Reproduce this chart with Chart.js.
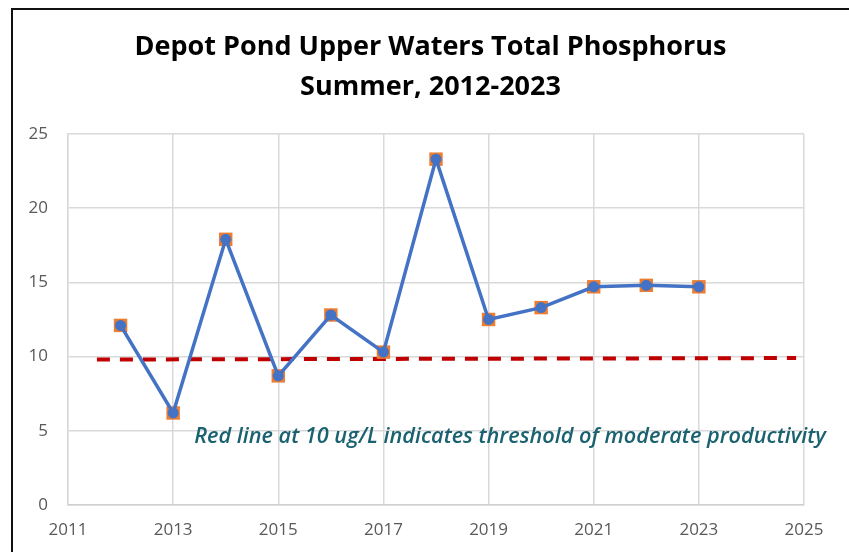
<!DOCTYPE html>
<html>
<head>
<meta charset="utf-8">
<script src="https://cdn.jsdelivr.net/npm/chart.js@4/dist/chart.umd.min.js"></script>
<style>
  html, body { margin: 0; padding: 0; background: #ffffff; }
  #wrap { width: 849px; height: 552px; position: relative; }
</style>
</head>
<body>
<div id="wrap"><canvas id="c" width="849" height="552"></canvas></div>
<script>
// ---- data ----
const titleLines = ["Depot Pond Upper Waters Total Phosphorus", "Summer, 2012-2023"];
const years = [2012, 2013, 2014, 2015, 2016, 2017, 2018, 2019, 2020, 2021, 2022, 2023];
const phosphorus = [12.1, 6.2, 17.9, 8.7, 12.8, 10.3, 23.3, 12.5, 13.3, 14.7, 14.8, 14.7];
const thresholdX = [2011.55, 2024.85];
const thresholdY = [9.8, 9.9];
const xTickRange = [2011, 2025];
const yTickRange = [0, 25];
const noteText = "Red line at 10 ug/L indicates threshold of moderate productivity";
const notePos = [2013.4, 4.6];

const seriesPoints = years.map((yr, i) => ({ x: yr, y: phosphorus[i] }));
const thresholdPoints = thresholdX.map((x, i) => ({ x: x, y: thresholdY[i] }));

const framePlugin = {
  id: 'frame',
  beforeDraw(chart) {
    const ctx = chart.ctx;
    ctx.save();
    ctx.fillStyle = '#ffffff';
    ctx.fillRect(0, 0, chart.width, chart.height);
    ctx.strokeStyle = '#111111';
    ctx.lineWidth = 2;
    ctx.beginPath();
    ctx.moveTo(849, 9);
    ctx.lineTo(12, 9);
    ctx.lineTo(12, 552);
    ctx.stroke();
    ctx.restore();
  }
};

const notePlugin = {
  id: 'note',
  afterDatasetsDraw(chart) {
    const ctx = chart.ctx;
    const xs = chart.scales.x, ys = chart.scales.y;
    ctx.save();
    ctx.font = 'italic 600 21.7px "Open Sans"';
    ctx.fillStyle = '#1B6270';
    ctx.textAlign = 'left';
    ctx.textBaseline = 'middle';
    ctx.fillText(noteText, xs.getPixelForValue(notePos[0]), ys.getPixelForValue(notePos[1]));
    ctx.restore();
  }
};

new Chart(document.getElementById('c'), {
  type: 'line',
  data: {
    datasets: [
      {
        label: 'Total Phosphorus',
        data: seriesPoints,
        borderColor: '#4472C4',
        backgroundColor: '#4472C4',
        borderWidth: 3.5,
        pointStyle: 'circle',
        pointRadius: 5.5,
        pointBorderWidth: 0,
        pointBackgroundColor: '#4472C4',
        tension: 0,
        order: 0
      },
      {
        label: 'Markers',
        data: seriesPoints,
        showLine: false,
        pointStyle: 'rect',
        pointRadius: 9.5,
        pointBorderWidth: 0,
        pointBackgroundColor: '#ED7D31',
        borderColor: '#ED7D31',
        order: 1
      },
      {
        label: 'Threshold',
        data: thresholdPoints,
        borderColor: '#C00000',
        borderWidth: 4,
        borderDash: [13, 10],
        pointRadius: 0,
        tension: 0,
        order: 2
      }
    ]
  },
  options: {
    responsive: false,
    animation: false,
    devicePixelRatio: 1,
    layout: { padding: { left: 12, right: 0, top: 0, bottom: 0 } },
    plugins: {
      legend: { display: false },
      tooltip: { enabled: false },
      title: {
        display: true,
        text: titleLines,
        color: '#000000',
        font: { family: '"Open Sans"', size: 27, weight: 'bold', lineHeight: 1.48 },
        padding: { top: 27, bottom: 27 }
      }
    },
    scales: {
      x: {
        type: 'linear',
        min: xTickRange[0],
        max: xTickRange[1],
        ticks: {
          stepSize: 2,
          color: '#595959',
          font: { family: '"Open Sans"', size: 17 },
          padding: 15,
          callback: v => String(v)
        },
        grid: { color: '#d9d9d9', lineWidth: 1.5, drawTicks: false },
        border: { color: '#cfcfcf', width: 1.5 },
        afterFit(s) { s.height = 47; }
      },
      y: {
        min: yTickRange[0],
        max: yTickRange[1],
        ticks: {
          stepSize: 5,
          color: '#595959',
          font: { family: '"Open Sans"', size: 17 },
          padding: 20
        },
        grid: { color: '#d9d9d9', lineWidth: 1.5, drawTicks: false },
        border: { color: '#d9d9d9', width: 1.5 },
        afterFit(s) { s.width = 56; }
      },
      yRight: {
        position: 'right',
        min: yTickRange[0],
        max: yTickRange[1],
        ticks: { display: false },
        grid: { display: false, drawTicks: false },
        border: { display: false },
        afterFit(s) { s.width = 45; }
      }
    }
  },
  plugins: [framePlugin, notePlugin]
});
</script>
</body>
</html>
